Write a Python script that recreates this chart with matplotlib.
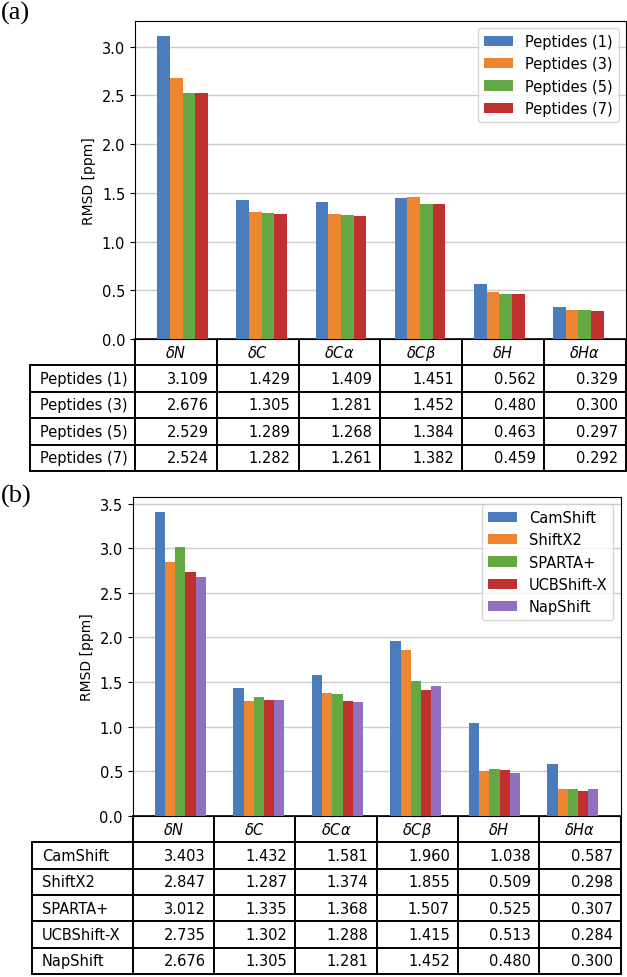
import numpy as np
import matplotlib
matplotlib.use('Agg')
from matplotlib import pyplot as plt

# shift types (table columns / bar groups)
shifts = [r'$\delta N$', r'$\delta C$', r'$\delta C\alpha$',
          r'$\delta C\beta$', r'$\delta H$', r'$\delta H\alpha$']

# panel (a): peptide training sets
pep_labels = ['Peptides (1)', 'Peptides (3)', 'Peptides (5)', 'Peptides (7)']
pep_1 = [3.109, 1.429, 1.409, 1.451, 0.562, 0.329]
pep_3 = [2.676, 1.305, 1.281, 1.452, 0.480, 0.300]
pep_5 = [2.529, 1.289, 1.268, 1.384, 0.463, 0.297]
pep_7 = [2.524, 1.282, 1.261, 1.382, 0.459, 0.292]

# panel (b): predictors
prog_labels = ['CamShift', 'ShiftX2', 'SPARTA+', 'UCBShift-X', 'NapShift']
camshift = [3.403, 1.432, 1.581, 1.960, 1.038, 0.587]
shiftx2 = [2.847, 1.287, 1.374, 1.855, 0.509, 0.298]
sparta = [3.012, 1.335, 1.368, 1.507, 0.525, 0.307]
ucbshift = [2.735, 1.302, 1.288, 1.415, 0.513, 0.284]
napshift = [2.676, 1.305, 1.281, 1.452, 0.480, 0.300]

colours = ['#4a7bba', '#ee8530', '#64a843', '#c0302f', '#9170c0']

plt.rcParams['font.family'] = 'DejaVu Sans'
plt.rcParams['font.size'] = 10.5


def panel(ax, labels, series, width, label_frac, tab_h):
    x = np.arange(len(shifts))
    for i, (lab, vals) in enumerate(zip(labels, series)):
        ax.bar(x + i * width, vals, width, color=colours[i], label=lab, zorder=3)
    ax.set_xticks([])
    ax.set_ylabel('RMSD [ppm]', fontsize=10)
    ax.yaxis.grid(True, color='#cccccc', linewidth=1, zorder=0)
    ax.set_axisbelow(True)
    ax.legend(loc='upper right', fontsize=10.5)

    # table under the bars, first column holds the row labels
    rows = [[lab] + ['%.3f' % v for v in vals] for lab, vals in zip(labels, series)]
    ncol = len(shifts)
    col_w = [label_frac] + [1.0 / ncol] * ncol
    tab = ax.table(cellText=rows, colLabels=[''] + shifts,
                   colWidths=col_w, cellLoc='right',
                   bbox=[-label_frac, -tab_h, 1 + label_frac, tab_h])
    tab.auto_set_font_size(False)
    tab.set_fontsize(10.5)
    for (r, c), cell in tab.get_celld().items():
        cell.set_linewidth(1.4)
        if r == 0:
            cell.get_text().set_ha('center')
            cell._loc = 'center'
            if c == 0:
                cell.visible_edges = ''
        elif c == 0:
            cell._loc = 'left'
            cell.get_text().set_ha('left')


fig = plt.figure(figsize=(6.27, 9.78), dpi=100)

ax1 = fig.add_axes([0.2153, 0.6524, 0.7831, 0.3252])
panel(ax1, pep_labels, [pep_1, pep_3, pep_5, pep_7], 0.16, 105 / 491, 132 / 318)

ax2 = fig.add_axes([0.2116, 0.1646, 0.7783, 0.3262])
panel(ax2, prog_labels, [camshift, shiftx2, sparta, ucbshift, napshift], 0.13,
      101 / 488, 158 / 319)

fig.text(0.002, 0.998, '(a)', family='Liberation Serif', fontsize=19, va='top')
fig.text(0.002, 0.504, '(b)', family='Liberation Serif', fontsize=19, va='top')

plt.savefig('out.png', dpi=100)
